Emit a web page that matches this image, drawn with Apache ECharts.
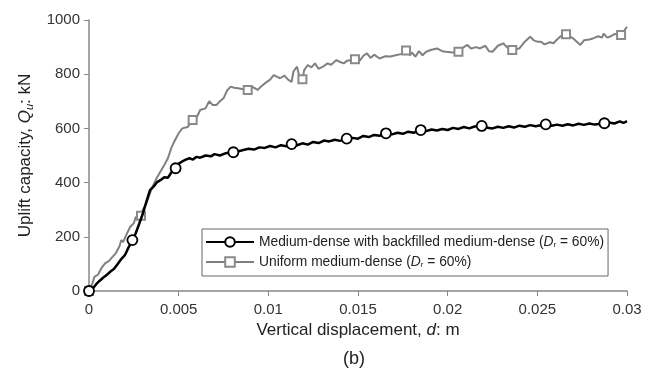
<!DOCTYPE html>
<html>
<head>
<meta charset="utf-8">
<script src="https://cdn.jsdelivr.net/npm/echarts@6/dist/echarts.min.js"></script>
<style>
  html, body { margin: 0; padding: 0; background: #fff; }
  #chart { width: 652px; height: 369px; }
</style>
</head>
<body>
<div id="chart"></div>
<script>
// displacement d (m) and uplift Q (kN)
const dBackfilled = [
  0, 0.0002, 0.0004, 0.0006, 0.0008, 0.001, 0.0012, 0.0014, 0.0016, 0.0018,
  0.002, 0.0022, 0.00242, 0.0026, 0.0028, 0.003, 0.0032, 0.0034, 0.0036, 0.0038,
  0.004, 0.0042, 0.0044, 0.0046, 0.00483, 0.005, 0.0052, 0.0054, 0.0056, 0.0058,
  0.006, 0.0062, 0.0065, 0.0068, 0.007, 0.0073, 0.0076, 0.00805, 0.0083, 0.0086,
  0.0089, 0.0092, 0.0095, 0.0098, 0.0101, 0.0104, 0.0107, 0.011, 0.0113, 0.0116,
  0.0119, 0.0122, 0.0125, 0.0128, 0.0131, 0.0134, 0.0137, 0.014, 0.01437, 0.0147,
  0.015, 0.0153, 0.0156, 0.0159, 0.0162, 0.01656, 0.0169, 0.0172, 0.0175, 0.0178,
  0.0181, 0.0185, 0.0188, 0.0191, 0.0194, 0.0197, 0.02, 0.0203, 0.0206, 0.0209,
  0.0212, 0.0215, 0.0219, 0.0222, 0.0225, 0.0228, 0.0231, 0.0234, 0.0237, 0.024,
  0.0243, 0.0246, 0.0249, 0.02547, 0.0258, 0.0261, 0.0264, 0.0267, 0.027, 0.0273,
  0.0276, 0.0279, 0.0282, 0.02874, 0.029, 0.0293, 0.0296, 0.0298, 0.03
];
const qBackfilled = [
  0, 8, 25, 38, 50, 60, 72, 82, 100, 118,
  132, 160, 188, 212, 248, 285, 330, 372, 385, 402,
  410, 420, 418, 438, 453, 470, 478, 485, 490, 485,
  495, 492, 500, 497, 505, 500, 508, 512, 515, 520,
  525, 522, 530, 528, 535, 530, 538, 534, 542, 538,
  545, 540, 550, 546, 555, 552, 558, 554, 562, 565,
  562, 572, 568, 576, 573, 582, 578, 584, 580, 588,
  584, 594, 590, 596, 592, 598, 594, 602, 598, 605,
  600, 607, 609, 602, 600, 606, 602, 608, 603, 610,
  606, 612, 608, 615, 610, 614, 610, 615, 611, 617,
  613, 618, 614, 619, 622, 618, 626, 620, 627
];
const markBackfilled = [0, 12, 24, 37, 48, 58, 65, 71, 82, 93, 103];

const dUniform = [
  0, 0.0002, 0.0003, 0.0005, 0.0007, 0.0009, 0.0011, 0.0013, 0.0015, 0.0017,
  0.0018, 0.0019, 0.0021, 0.0023, 0.0025, 0.0026, 0.0029, 0.003, 0.0032, 0.0035,
  0.0038, 0.00415, 0.0044, 0.0046, 0.0048, 0.005, 0.0052, 0.0055, 0.00578, 0.006,
  0.0062, 0.0065, 0.0067, 0.0069, 0.0071, 0.0073, 0.0075, 0.0077, 0.0079, 0.0081,
  0.0083, 0.00885, 0.0091, 0.0094, 0.0096, 0.0098, 0.0101, 0.0103, 0.0105, 0.01065,
  0.0109, 0.0111, 0.0113, 0.0114, 0.0116, 0.0117, 0.0119, 0.012, 0.0122, 0.0124,
  0.0126, 0.0128, 0.0129, 0.0131, 0.0133, 0.0135, 0.0138, 0.014, 0.0142, 0.0144,
  0.01483, 0.0151, 0.0153, 0.0155, 0.0157, 0.0159, 0.0162, 0.0165, 0.0168, 0.0171,
  0.01745, 0.01768, 0.0179, 0.018, 0.0182, 0.0184, 0.0186, 0.0188, 0.0191, 0.0194,
  0.0197, 0.0199, 0.0203, 0.0206, 0.0209, 0.0211, 0.0213, 0.0216, 0.0218, 0.0221,
  0.0223, 0.0225, 0.0228, 0.0231, 0.0233, 0.0236, 0.0238, 0.024, 0.0243, 0.0246,
  0.0248, 0.025, 0.0252, 0.0254, 0.0257, 0.0259, 0.0261, 0.0263, 0.0266, 0.0268,
  0.027, 0.0272, 0.0274, 0.0276, 0.0279, 0.0281, 0.0284, 0.0286, 0.0287, 0.0289,
  0.0291, 0.0293, 0.02967, 0.03
];
const qUniform = [
  0, 30, 52, 60, 85, 102, 110, 125, 140, 165,
  188, 180, 210, 237, 250, 272, 278, 300, 323, 379,
  420, 459, 490, 530, 557, 582, 600, 605, 631, 640,
  668, 674, 700, 686, 686, 700, 711, 740, 754, 750,
  748, 742, 754, 742, 755, 766, 780, 797, 790, 785,
  795, 780, 772, 810, 828, 800, 781, 815, 834, 825,
  840, 820, 815, 830, 840, 835, 852, 845, 840, 850,
  855, 850, 868, 877, 860, 872, 858, 866, 865, 870,
  875, 887, 870, 880, 865, 885, 870, 883, 890, 895,
  885, 883, 880, 883, 900, 908, 895, 900, 895, 905,
  885, 883, 905, 914, 900, 889, 893, 895, 920, 938,
  925, 920, 920, 910, 918, 914, 928, 940, 947, 940,
  932, 920, 908, 925, 928, 932, 940, 935, 950, 935,
  940, 948, 945, 975
];
const markUniform = [0, 16, 28, 41, 56, 70, 81, 93, 105, 118, 132];

function buildData(xs, ys, marks) {
  return xs.map((x, i) => marks.includes(i) ? [x, ys[i]] : { value: [x, ys[i]], symbol: 'none' })
}

const chart = echarts.init(document.getElementById('chart'))
const font = 'Liberation Sans, Arial, sans-serif'

chart.setOption({
  animation: false,
  textStyle: { fontFamily: font },
  grid: { left: 89, right: 25, top: 20, bottom: 78 },
  legend: {
    orient: 'vertical',
    left: 202,
    top: 229,
    padding: [6, 4, 7, 3],
    itemWidth: 48,
    itemHeight: 12,
    itemGap: 6,
    borderColor: '#666',
    borderWidth: 1,
    backgroundColor: '#fff',
    textStyle: {
      fontSize: 13.8,
      color: '#222',
      fontFamily: font,
      rich: {
        i: { fontStyle: 'italic', fontSize: 13.8, color: '#222', fontFamily: font },
        s: { fontSize: 8, color: '#222', fontFamily: font, verticalAlign: 'bottom', padding: [6, 0, 0, 0] }
      }
    },
    formatter: name => name === 'backfilled'
      ? 'Medium-dense with backfilled medium-dense ({i|D}{s|r} = 60%)'
      : 'Uniform medium-dense ({i|D}{s|r} = 60%)',
    data: ['backfilled', 'uniform']
  },
  xAxis: {
    type: 'value',
    min: 0,
    max: 0.03,
    interval: 0.005,
    name: '{t|Vertical displacement, }{i|d}{t|: m}',
    nameLocation: 'middle',
    nameGap: 30,
    nameTextStyle: {
      rich: {
        t: { fontSize: 17, color: '#222', fontFamily: font },
        i: { fontSize: 17, color: '#222', fontFamily: font, fontStyle: 'italic' }
      }
    },
    splitLine: { show: false },
    axisLine: { lineStyle: { color: '#888', width: 1.5 } },
    axisTick: { length: 5, lineStyle: { color: '#888' } },
    axisLabel: {
      margin: 11,
      fontSize: 15,
      color: '#333',
      formatter: v => String(parseFloat(v.toFixed(4)))
    }
  },
  yAxis: {
    type: 'value',
    min: 0,
    max: 1000,
    interval: 200,
    name: '{t|Uplift capacity, }{i|Q}{s|u}{t|: kN}',
    nameLocation: 'middle',
    nameGap: 44,
    nameTextStyle: {
      rich: {
        t: { fontSize: 17, color: '#222', fontFamily: font },
        i: { fontSize: 17, color: '#222', fontFamily: font, fontStyle: 'italic' },
        s: { fontSize: 11, color: '#222', fontFamily: font, fontStyle: 'italic', verticalAlign: 'bottom', padding: [9, 0, 0, 0] }
      }
    },
    splitLine: { show: false },
    axisLine: { show: true, lineStyle: { color: '#888', width: 1.5 } },
    axisTick: { show: true, length: 5, lineStyle: { color: '#888' } },
    axisLabel: { margin: 9, fontSize: 15, color: '#333', formatter: v => String(v) }
  },
  graphic: [{
    type: 'text',
    left: 343,
    top: 350,
    style: { text: '(b)', fontSize: 18, fill: '#222', fontFamily: font }
  }],
  series: [
    {
      name: 'uniform',
      type: 'line',
      data: buildData(dUniform, qUniform, markUniform),
      symbol: 'rect',
      symbolSize: 8,
      showAllSymbol: true,
      lineStyle: { color: '#808080', width: 2 },
      itemStyle: { color: '#fff', borderColor: '#8a8a8a', borderWidth: 2 },
      z: 2
    },
    {
      name: 'backfilled',
      type: 'line',
      data: buildData(dBackfilled, qBackfilled, markBackfilled),
      symbol: 'circle',
      symbolSize: 10,
      showAllSymbol: true,
      lineStyle: { color: '#000', width: 2.5 },
      itemStyle: { color: '#fff', borderColor: '#000', borderWidth: 1.8 },
      z: 3
    }
  ]
})
</script>
</body>
</html>
